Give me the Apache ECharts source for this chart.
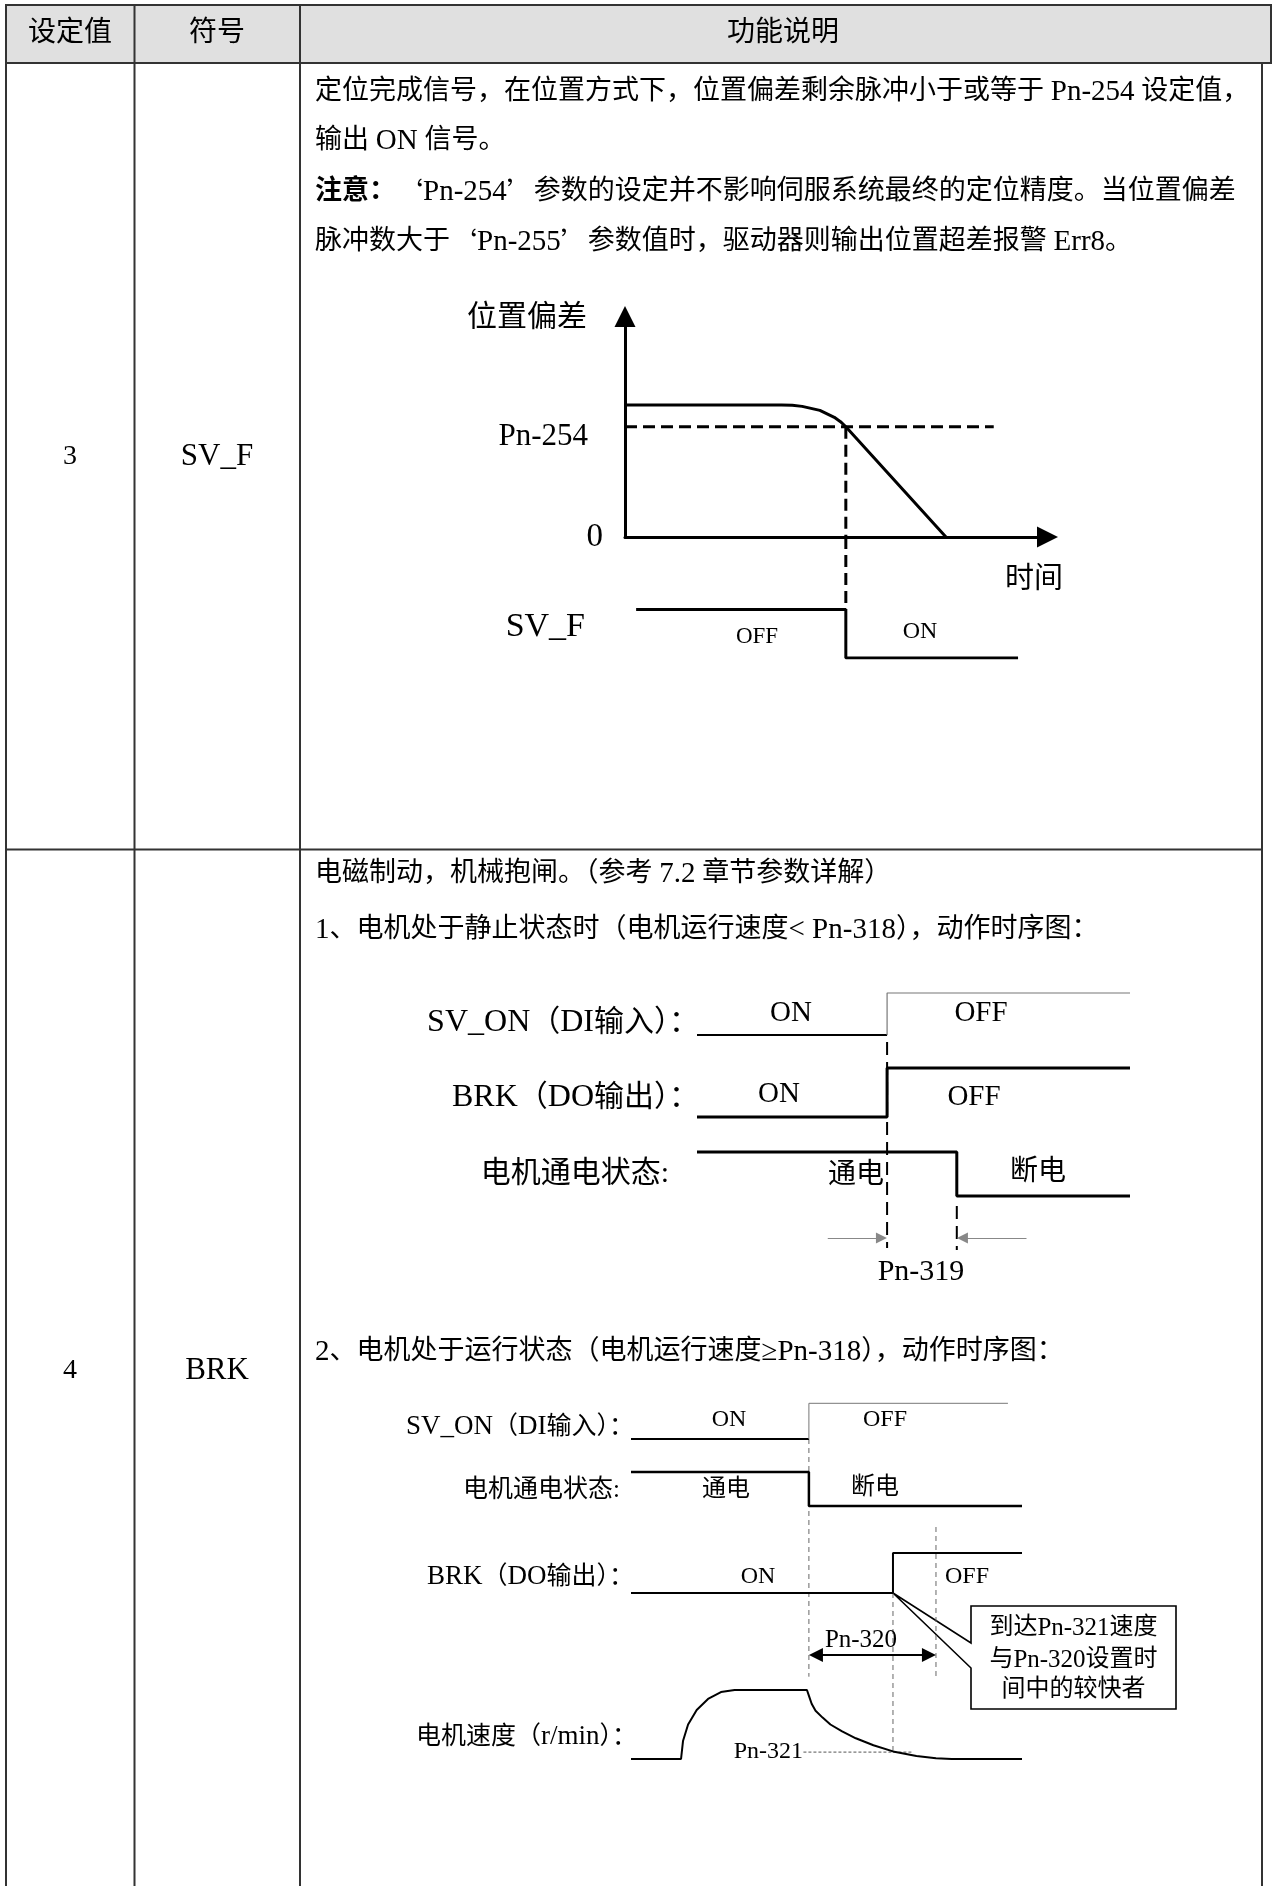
<!DOCTYPE html>
<html>
<head>
<meta charset="utf-8">
<title>SV_F / BRK 时序图</title>
<script src="https://cdn.jsdelivr.net/npm/echarts@6.0.0/dist/echarts.min.js"></script>
<style>
html,body{margin:0;padding:0;background:#ffffff;}
#chart{width:1272px;height:1886px;}
</style>
</head>
<body>
<div id="chart"></div>
<script>
/* ================= DATA ================= */
// table texts
const headerLabels = ['设定值', '符号', '功能说明'];
const rowValues = ['3', '4'];
const rowSymbols = ['SV_F', 'BRK'];
const row1Text = [
  '定位完成信号，在位置方式下，位置偏差剩余脉冲小于或等于 Pn-254 设定值，',
  '输出 ON 信号。',
  '{b|注意：}‘Pn-254’参数的设定并不影响伺服系统最终的定位精度。当位置偏差',
  '脉冲数大于‘Pn-255’参数值时，驱动器则输出位置超差报警 Err8。'
];
const row2Text = [
  '电磁制动，机械抱闸。（参考 7.2 章节参数详解）',
  '1、电机处于静止状态时（电机运行速度< Pn-318），动作时序图：',
  '2、电机处于运行状态（电机运行速度≥Pn-318），动作时序图：'
];

// Diagram A: position deviation vs time  [time, deviation]
const devCurve = [[0, 6.29], [3.8, 6.29], [4.06, 6.27], [4.3, 6.22], [4.73, 6.03], [5.08, 5.7], [5.23, 5.49], [5.36, 5.25], [7.79, 0]];
const pn254 = 5.25;          // threshold level
const pn254End = 8.95;       // extent of the threshold guide
const svfReach = 5.36;       // time deviation reaches Pn-254
const svfSignal = [[0.27, 1], [5.36, 1], [5.36, 0], [9.54, 0]];  // [time, level]

// Diagram B: motor standstill  [time, level]
const svOnStatic = [[0, 0], [4.39, 0], [4.39, 1], [10, 1]];
const brkStatic = [[0, 0], [4.39, 0], [4.39, 1], [10, 1]];
const powerStatic = [[0, 1], [6.0, 1], [6.0, 0], [10, 0]];
const pn319Span = [4.39, 6.0];

// Diagram C: motor running  [time, level] / [time, speed %]
const svOnRun = [[0, 0], [4.55, 0], [4.55, 1], [9.64, 1]];
const powerRun = [[0, 1], [4.55, 1], [4.55, 0], [10, 0]];
const brkRun = [[0, 0], [6.7, 0], [6.7, 1], [10, 1]];
const speedRun = [[0, 0], [1.28, 0], [1.33, 26], [1.46, 50], [1.68, 71], [1.97, 87], [2.3, 97], [2.65, 100], [4.5, 100],
  [4.56, 90], [4.62, 80], [4.72, 70], [4.9, 60], [5.1, 50], [5.4, 40], [5.75, 30], [6.2, 20], [6.7, 11], [7.3, 4.5], [7.8, 1], [8.2, 0], [10, 0]];
const pn321Speed = 10;
const pn320Span = [4.55, 7.8];

/* ================= LAYOUT ================= */
const FONT = '"Liberation Serif","Noto Sans CJK SC",serif';
const LAT = '"Liberation Serif",serif';
const CJK = '"Noto Sans CJK SC",sans-serif';
const GRIDS = [
  { left: 625, top: 327, width: 412, height: 210 },  // A deviation
  { left: 625, top: 537, width: 412, height: 121 },  // A SV_F
  { left: 697, top: 980, width: 433, height: 280 },  // B
  { left: 631, top: 1380, width: 391, height: 380 }  // C
];
const Y_MAX = [10, 2.5, 28, 38];
// track placement: [base, amplitude]
const TB = { svOn: [22.5, 4.2], brk: [14.3, 4.9], power: [6.4, 4.4], arrowY: 2.2 };
const TC = { svOn: [32.1, 3.57], power: [25.4, 3.4], brk: [16.7, 4.0], speed: [0.1, 0.069], arrowY: 10.5 };

function track(data, tr) { return data.map(p => [p[0], tr[0] + p[1] * tr[1]]); }

function lineS(g, data, width, color, dash, z) {
  return {
    type: 'line', xAxisIndex: g, yAxisIndex: g, data: data, symbol: 'none', showSymbol: false,
    silent: true, animation: false, z: z || 5,
    lineStyle: { width: width, color: color || '#000', type: dash || 'solid', cap: 'butt' }
  };
}
function arrowS(g, segs, width, color, syms, size) {
  return {
    type: 'lines', coordinateSystem: 'cartesian2d', xAxisIndex: g, yAxisIndex: g,
    silent: true, animation: false, z: 6, symbol: syms, symbolSize: size,
    lineStyle: { color: color, width: width, curveness: 0, opacity: 1 },
    itemStyle: { color: '#000' },
    data: segs.map(s => ({ coords: s }))
  };
}
// wrap Latin runs / curly quotes into rich tokens
function richify(s) {
  return s.split(/(\{[a-z]+\|[^}]*\})/).map(part => {
    if (/^\{[a-z]+\|/.test(part)) return part;
    return part
      .replace(/[\x21-\x7E≥]+(?: [\x21-\x7E≥]+)*/g, m => '{l|' + m + '}')
      .replace(/[‘’]/g, m => '{q|' + m + '}');
  }).join('');
}
let gid = 0;
function txt(text, x, y, size, align, extra) {
  const st = Object.assign({
    text: text, x: x, y: y, fill: '#000', fontSize: size, fontFamily: FONT,
    textAlign: align || 'left', textVerticalAlign: 'middle', align: align || 'left', verticalAlign: 'middle'
  }, extra || {});
  return { id: 't' + (gid++), type: 'text', silent: true, z: 50, style: st };
}
function rtxt(text, x, y, size, latSize, align) {
  return txt(richify(text), x, y, size, align, {
    rich: {
      l: { fontSize: latSize, fontFamily: LAT, fill: '#000' },
      q: { fontSize: size, fontFamily: CJK, fill: '#000' },
      b: { fontSize: size, fontFamily: FONT, fontWeight: 'bold', fill: '#000' }
    }
  });
}
function ln(x1, y1, x2, y2, w, c) {
  return { id: 'l' + (gid++), type: 'line', silent: true, z: 40, shape: { x1, y1, x2, y2 }, style: { stroke: c || '#333', lineWidth: w || 2 } };
}

/* ---------- axes ---------- */
const hiddenAxis = (g, max) => ({ type: 'value', gridIndex: g, min: 0, max: max, show: false });
const arrowAxisLine = {
  show: true, onZero: false, symbol: ['none', 'triangle'], symbolSize: [21, 21], symbolOffset: [0, 10.5],
  lineStyle: { color: '#000', width: 3 }
};
const xAxes = [
  { type: 'value', gridIndex: 0, min: 0, max: 10, interval: 10, axisLine: arrowAxisLine, axisTick: { show: false }, axisLabel: { show: false }, splitLine: { show: false } },
  hiddenAxis(1, 10), hiddenAxis(2, 10), hiddenAxis(3, 10)
];
const yAxes = [
  { type: 'value', gridIndex: 0, min: 0, max: 10, interval: 10, axisLine: arrowAxisLine, axisTick: { show: false }, splitLine: { show: false },
    axisLabel: { show: true, margin: 22, color: '#000', fontSize: 33, fontFamily: LAT, formatter: v => (v === 0 ? '0' : '') } },
  hiddenAxis(1, Y_MAX[1]), hiddenAxis(2, Y_MAX[2]), hiddenAxis(3, Y_MAX[3])
];

/* ---------- series ---------- */
const DASH_A = [12, 6];
const DASH_B = [13, 7];
const DASH_C = [5, 4];
const series = [
  // A
  lineS(0, devCurve, 3),
  lineS(0, [[0, pn254], [pn254End, pn254]], 3, '#000', DASH_A),
  lineS(0, [[svfReach, pn254], [svfReach, 0]], 3, '#000', DASH_A),
  lineS(1, [[svfReach, Y_MAX[1]], [svfReach, 1]], 3, '#000', DASH_A),
  lineS(1, svfSignal, 3),
  // B
  lineS(2, track(svOnStatic.slice(0, 2), TB.svOn), 2.2),
  lineS(2, track(svOnStatic.slice(1), TB.svOn), 1.2, '#777'),
  lineS(2, track(brkStatic, TB.brk), 3),
  lineS(2, track(powerStatic, TB.power), 3),
  lineS(2, [[pn319Span[0], 21.8], [pn319Span[0], 1.2]], 2, '#000', DASH_B, 4),
  lineS(2, [[pn319Span[1], 5.4], [pn319Span[1], 1.0]], 2, '#000', DASH_B, 4),
  arrowS(2, [
    [[3.02, TB.arrowY], [pn319Span[0] - 0.13, TB.arrowY]],
    [[7.61, TB.arrowY], [pn319Span[1] + 0.13, TB.arrowY]]
  ], 1, '#888', ['none', 'triangle'], 11),
  // C
  lineS(3, track(svOnRun.slice(0, 2), TC.svOn), 2),
  lineS(3, track(svOnRun.slice(1), TC.svOn), 1, '#777'),
  lineS(3, track(powerRun, TC.power), 2.5),
  lineS(3, track(brkRun, TC.brk), 2),
  lineS(3, track(speedRun, TC.speed), 2),
  lineS(3, [[pn320Span[0], TC.svOn[0]], [pn320Span[0], 8.33]], 1, '#666', DASH_C, 4),
  lineS(3, [[brkRun[1][0], TC.brk[0]], [brkRun[1][0], TC.speed[0] + pn321Speed * TC.speed[1]]], 1, '#666', DASH_C, 4),
  lineS(3, [[pn320Span[1], 23.3], [pn320Span[1], 8.33]], 1, '#666', DASH_C, 4),
  lineS(3, track([[4.41, pn321Speed], [7.21, pn321Speed]], TC.speed), 1, '#555', [3, 2], 4),
  arrowS(3, [[[pn320Span[0] + 0.18, TC.arrowY], [pn320Span[1] - 0.18, TC.arrowY]]], 2, '#000', ['triangle', 'triangle'], 14)
];

/* ---------- graphic: table + text ---------- */
const G = [];
// table frame
G.push({ id: 'hdr', type: 'rect', silent: true, z: 30, shape: { x: 6, y: 5, width: 1265, height: 58 }, style: { fill: '#e0e0e0', stroke: '#333', lineWidth: 2 } });
G.push(ln(6, 5, 6, 1886));
G.push(ln(134.5, 5, 134.5, 1886));
G.push(ln(300, 5, 300, 1886));
G.push(ln(1262, 63, 1262, 1886));
G.push(ln(6, 849.5, 1262, 849.5));
// header
G.push(txt(headerLabels[0], 70, 34, 28, 'center'));
G.push(txt(headerLabels[1], 217, 34, 28, 'center'));
G.push(txt(headerLabels[2], 783, 34, 28, 'center'));
// row labels
G.push(txt(rowValues[0], 70, 457, 28, 'center'));
G.push(txt(rowSymbols[0], 217, 457, 31, 'center'));
G.push(txt(rowValues[1], 70, 1371, 28, 'center'));
G.push(txt(rowSymbols[1], 217, 1371, 31, 'center'));
// row 1 paragraph
const r1y = [92, 141, 192, 242];
row1Text.forEach((t, i) => G.push(rtxt(t, 315, r1y[i], 27, 29, 'left')));
// row 2 paragraph
const r2y = [874, 930, 1352];
row2Text.forEach((t, i) => G.push(rtxt(t, 315, r2y[i], 27, 29, 'left')));

// Diagram A labels
G.push(txt('位置偏差', 587, 318, 30, 'right'));
G.push(txt('Pn-254', 588, 437, 31, 'right'));
G.push(txt('时间', 1034, 580, 29, 'center'));
G.push(txt('SV_F', 585, 627, 34, 'right'));
G.push(txt('OFF', 757, 637, 23, 'center'));
G.push(txt('ON', 920, 632, 24, 'center'));

// Diagram B labels
G.push(rtxt('SV_ON（DI输入）：', 699, 1023, 30, 32, 'right'));
G.push(rtxt('BRK（DO输出）：', 699, 1098, 30, 32, 'right'));
G.push(rtxt('电机通电状态:', 669, 1174, 30, 30, 'right'));
G.push(txt('ON', 791, 1013, 29, 'center'));
G.push(txt('OFF', 981, 1013, 29, 'center'));
G.push(txt('ON', 779, 1094, 29, 'center'));
G.push(txt('OFF', 974, 1097, 29, 'center'));
G.push(txt('通电', 856, 1176, 28, 'center'));
G.push(txt('断电', 1038, 1173, 28, 'center'));
G.push(txt('Pn-319', 921, 1272, 30, 'center'));

// Diagram C labels
G.push(rtxt('SV_ON（DI输入）：', 634, 1427, 25, 27, 'right'));
G.push(rtxt('电机通电状态:', 620, 1490, 25, 25, 'right'));
G.push(rtxt('BRK（DO输出）：', 634, 1577, 25, 27, 'right'));
G.push(rtxt('电机速度（r/min）：', 637, 1737, 25, 27, 'right'));
G.push(txt('ON', 729, 1420, 24, 'center'));
G.push(txt('OFF', 885, 1420, 24, 'center'));
G.push(txt('通电', 726, 1490, 24, 'center'));
G.push(txt('断电', 875, 1488, 24, 'center'));
G.push(txt('ON', 758, 1577, 24, 'center'));
G.push(txt('OFF', 967, 1577, 24, 'center'));
G.push(txt('Pn-320', 861, 1640, 25, 'center'));
G.push(txt('Pn-321', 803, 1752, 24, 'right'));

const option = {
  backgroundColor: '#ffffff',
  animation: false,
  grid: GRIDS.map(g => Object.assign({ outerBoundsMode: 'none', containLabel: false }, g)),
  xAxis: xAxes,
  yAxis: yAxes,
  series: series,
  graphic: { elements: G }
};

const chart = echarts.init(document.getElementById('chart'), null, { renderer: 'canvas', width: 1272, height: 1886 });
chart.setOption(option);

// callout anchored at the BRK output switching point
const anchor = chart.convertToPixel({ xAxisIndex: 3, yAxisIndex: 3 }, [brkRun[1][0], TC.brk[0]]);
const bx = 971, by = 1606, bw = 205, bh = 103;
chart.setOption({
  graphic: {
    elements: [
      { id: 'callout', type: 'polygon', silent: true, z: 3,
        shape: { points: [[bx, by], [bx + bw, by], [bx + bw, by + bh], [bx, by + bh], [bx, 1668], anchor, [bx, 1643]] },
        style: { fill: 'rgba(255,255,255,0)', stroke: '#000', lineWidth: 1.6 } },
      Object.assign(rtxt('到达Pn-321速度', bx + bw / 2, 1628, 24, 25, 'center'), { id: 'c1' }),
      Object.assign(rtxt('与Pn-320设置时', bx + bw / 2, 1660, 24, 25, 'center'), { id: 'c2' }),
      Object.assign(rtxt('间中的较快者', bx + bw / 2, 1690, 24, 25, 'center'), { id: 'c3' })
    ]
  }
});
</script>
</body>
</html>
